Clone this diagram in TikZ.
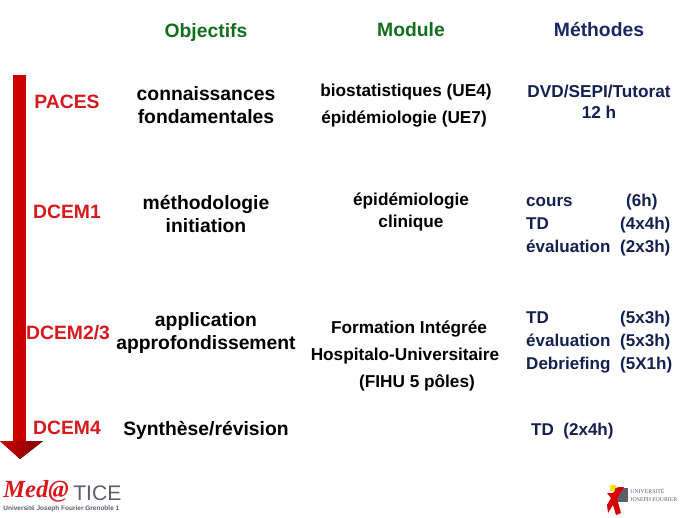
\documentclass[tikz,border=0pt]{standalone}
\usepackage{fontspec}
\setmainfont{Liberation Sans}
\newfontfamily\logoserif{Liberation Serif}
\usepackage{xcolor}
\definecolor{headgreen}{RGB}{20,110,30}
\definecolor{headblue}{RGB}{25,40,100}
\definecolor{levelred}{RGB}{215,25,30}
\definecolor{arrowred}{RGB}{205,0,0}
\definecolor{arrowdark}{RGB}{125,5,5}
\definecolor{logogray}{RGB}{90,95,105}
\tikzset{
	head/.style={font=\bfseries\fontsize{11}{12}\selectfont},
	level/.style={font=\bfseries\fontsize{11}{12}\selectfont,text=levelred},
	goal/.style={font=\bfseries\fontsize{11}{13.1}\selectfont,align=center},
	modul/.style={font=\bfseries\fontsize{9.8}{12}\selectfont,align=center},
	meth/.style={font=\bfseries\fontsize{9.7}{12}\selectfont,text=headblue!80!black,anchor=base west}
}
\begin{document}
\begin{tikzpicture}[x=0.02cm,y=-0.02cm]
    \useasboundingbox (0, 0) rectangle (689, 517);
    % arrow
    \fill[arrowred] (13, 75) rectangle (26, 441);
    \fill[left color=arrowred,right color=arrowdark] (0, 441) -- (43, 441) -- (20, 459) -- cycle;
    % columns
    \node[head,text=headgreen] (objectifs) at (206, 33) {Objectifs};
    \node[head,text=headgreen] (module) at (411, 30) {Module};
    \node[head,text=headblue] (methodes) at (599, 30) {Méthodes};
    % levels
    \node[level] (paces) at (67, 102) {PACES};
    \node[level] (dcem1) at (67, 212) {DCEM1};
    \node[level] (dcem23) at (68, 333) {DCEM2/3};
    \node[level] (dcem4) at (67, 428) {DCEM4};
    % objectifs
    \node[goal] (goal1) at (206, 105) {connaissances\\fondamentales};
    \node[goal] (goal2) at (206, 214) {méthodologie\\initiation};
    \node[goal] (goal3) at (206, 333) {application\\approfondissement};
    \node[goal] (goal4) at (206, 430) {Synthèse/révision};
    % module
    \node[modul] (mod1) at (406, 92) {biostatistiques (UE4)};
    \node[modul] (mod2) at (404, 119) {épidémiologie (UE7)};
    \node[modul] (mod3) at (411, 212) {épidémiologie\\clinique};
    \node[modul] (mod4) at (409, 329) {Formation Intégrée};
    \node[modul] (mod5) at (405, 356) {Hospitalo-Universitaire};
    \node[modul] (mod6) at (417, 383) {(FIHU 5 pôles)};
    % methodes
    \node[modul,text=headblue!80!black] (meth1) at (599, 102) {DVD/SEPI/Tutorat\\12 h};
    \node[meth] (cours) at (520, 206) {cours};
    \node[meth] (cours h) at (620, 206) {(6h)};
    \node[meth] (td) at (520, 229) {TD};
    \node[meth] (td h) at (614, 229) {(4x4h)};
    \node[meth] (eval) at (520, 252) {évaluation};
    \node[meth] (eval h) at (614, 252) {(2x3h)};
    \node[meth] (td2) at (520, 323) {TD};
    \node[meth] (td2 h) at (614, 323) {(5x3h)};
    \node[meth] (eval2) at (520, 346) {évaluation};
    \node[meth] (eval2 h) at (614, 346) {(5x3h)};
    \node[meth] (debrief) at (520, 369) {Debriefing};
    \node[meth] (debrief h) at (614, 369) {(5X1h)};
    \node[meth] (td3) at (525, 435) {TD\ \ (2x4h)};
    % logo left
    \node[anchor=west,inner sep=0pt,text=levelred,font=\logoserif\bfseries\itshape\fontsize{14}{14}\selectfont] (med) at (3, 491) {Med@};
    \node[anchor=west,inner sep=0pt,text=logogray,font=\fontsize{12}{12}\selectfont] (tice) at (73, 493) {TICE};
    \node[anchor=west,inner sep=0pt,text=logogray,font=\bfseries\fontsize{3.7}{4}\selectfont] (ujf) at (3, 509) {Université Joseph Fourier Grenoble 1};
    % logo right
    \fill[yellow!80!orange] (610, 485) rectangle (616, 491);
    \fill[logogray] (615, 488) rectangle (628, 502);
    \fill[red!85!black] (618, 487) -- (624, 487) -- (617, 499) -- (621, 513) -- (616, 515) -- (613, 505) -- (608, 513) -- (607, 505) -- (611, 498) -- (607, 493) -- (613, 493) -- cycle;
    \node[anchor=west,inner sep=0pt,text=logogray,font=\logoserif\fontsize{3.3}{4.4}\selectfont,align=left] (ufj logo) at (630, 495) {UNIVERSITÉ\\JOSEPH FOURIER};
\end{tikzpicture}
\end{document}
